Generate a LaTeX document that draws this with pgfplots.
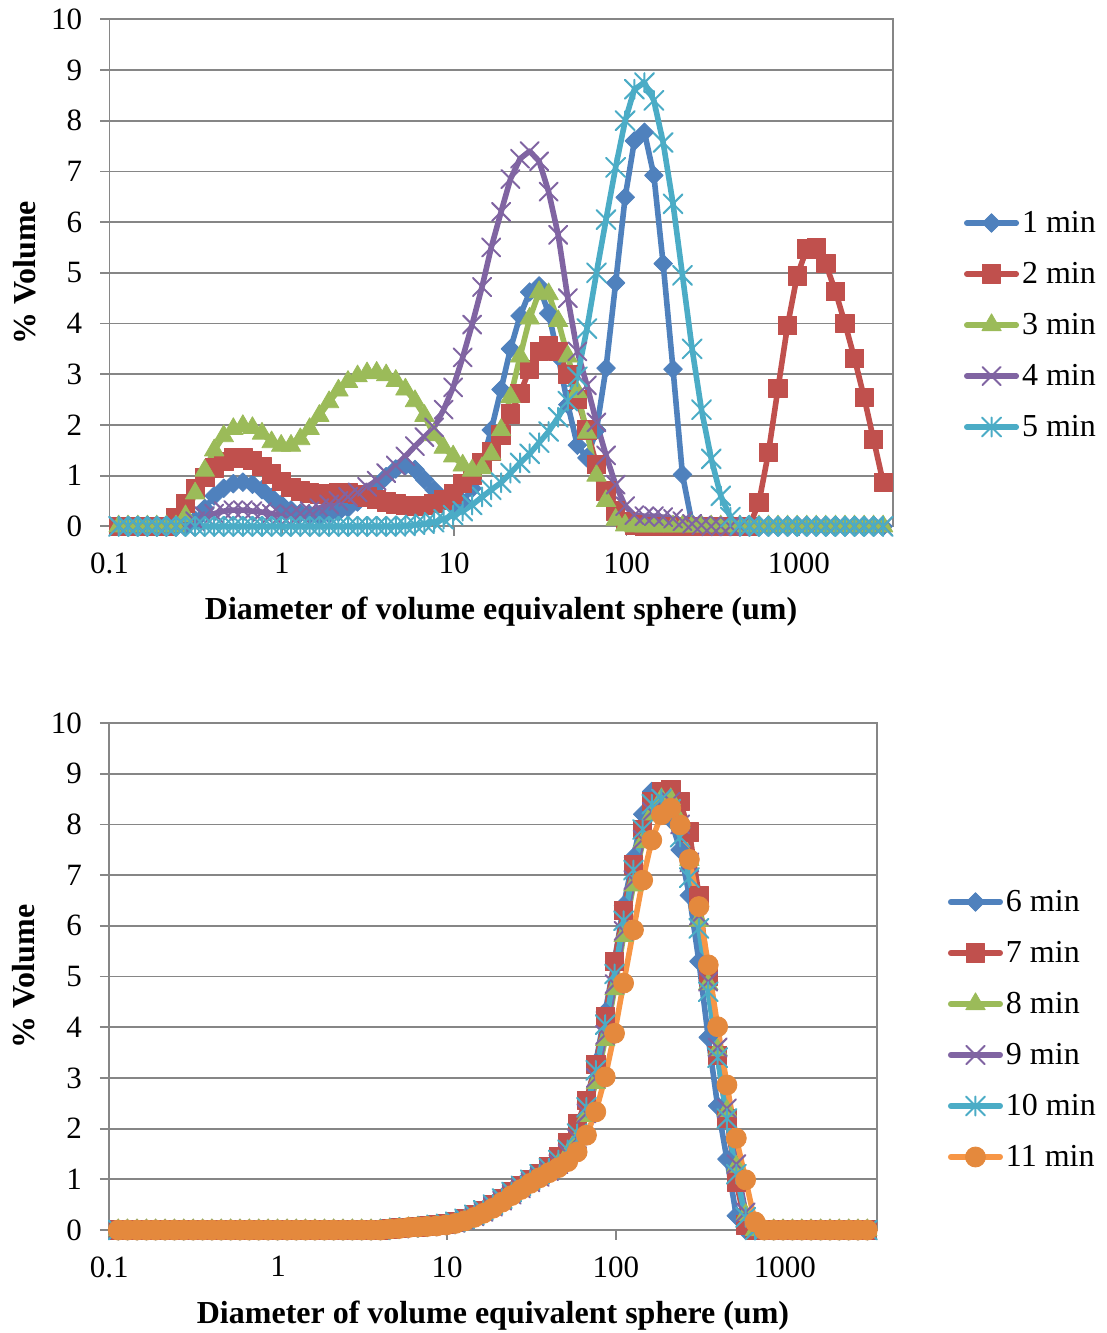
\documentclass[border=0pt]{standalone}
\usepackage{fontspec}
\setmainfont{Liberation Serif}
\usepackage{pgfplots}
\usepackage{pgfplotstable}
\pgfplotsset{compat=1.18}
\definecolor{c1}{HTML}{4F81BD}
\definecolor{c2}{HTML}{C0504D}
\definecolor{c3}{HTML}{9BBB59}
\definecolor{c4}{HTML}{8064A2}
\definecolor{c5}{HTML}{4BACC6}
\definecolor{c6}{HTML}{F79646}
\definecolor{c6m}{HTML}{E4893D}
\definecolor{gridgray}{HTML}{868686}
\pgfdeclareplotmark{xstar}{%
  \pgfpathmoveto{\pgfqpoint{0pt}{\pgfplotmarksize}}\pgfpathlineto{\pgfqpoint{0pt}{-\pgfplotmarksize}}%
  \pgfpathmoveto{\pgfqpoint{\pgfplotmarksize}{\pgfplotmarksize}}\pgfpathlineto{\pgfqpoint{-\pgfplotmarksize}{-\pgfplotmarksize}}%
  \pgfpathmoveto{\pgfqpoint{-\pgfplotmarksize}{\pgfplotmarksize}}\pgfpathlineto{\pgfqpoint{\pgfplotmarksize}{-\pgfplotmarksize}}%
  \pgfusepathqstroke}

\pgfplotstableread{
x b r g p c
0.113 0 0 0 0 0
0.128 0 0 0 0 0
0.146 0 0 0 0 0
0.166 0 0 0 0 0
0.188 0 0 0 0 0
0.214 0 0 0 0 0
0.243 0 0.18 0 0 0
0.276 0 0.45 0.2 0 0
0.314 0.12 0.75 0.65 0.1 0
0.357 0.35 0.97 1.1 0.2 0
0.405 0.6 1.15 1.5 0.25 0
0.460 0.75 1.28 1.78 0.3 0
0.523 0.84 1.35 1.92 0.32 0
0.594 0.87 1.35 1.98 0.32 0
0.675 0.83 1.3 1.94 0.3 0
0.767 0.72 1.18 1.83 0.28 0
0.872 0.57 1.03 1.66 0.25 0
0.991 0.43 0.88 1.59 0.22 0
1.13 0.32 0.77 1.59 0.22 0
1.28 0.26 0.7 1.72 0.25 0
1.45 0.23 0.66 1.92 0.3 0
1.65 0.22 0.64 2.18 0.36 0
1.88 0.24 0.65 2.45 0.43 0
2.13 0.28 0.66 2.68 0.5 0
2.42 0.36 0.66 2.85 0.58 0
2.75 0.48 0.63 2.96 0.67 0
3.12 0.63 0.58 3.02 0.78 0
3.55 0.8 0.53 3.03 0.9 0
4.03 0.98 0.48 2.98 1.05 0
4.58 1.13 0.44 2.87 1.2 0
5.21 1.2 0.41 2.7 1.38 0.01
5.92 1.12 0.4 2.47 1.58 0.03
6.72 0.92 0.41 2.18 1.76 0.05
7.64 0.72 0.45 1.8 1.95 0.08
8.68 0.52 0.52 1.55 2.3 0.14
9.86 0.42 0.64 1.38 2.74 0.22
11.2 0.48 0.85 1.2 3.33 0.3
12.7 0.75 1.0 1.1 3.98 0.42
14.5 1.25 1.25 1.15 4.72 0.58
16.4 1.9 1.48 1.42 5.5 0.72
18.7 2.7 1.8 1.9 6.2 0.86
21.2 3.5 2.22 2.55 6.85 1.05
24.1 4.15 2.62 3.35 7.25 1.25
27.4 4.62 3.1 4.1 7.4 1.43
31.1 4.74 3.45 4.62 7.2 1.65
35.3 4.2 3.56 4.58 6.6 1.87
40.1 3.35 3.45 4.05 5.75 2.15
45.6 2.4 3.0 3.35 4.5 2.47
51.8 1.6 2.5 2.65 3.45 2.95
58.9 1.35 1.9 1.85 2.78 3.9
66.9 1.9 1.22 1.0 2.05 5.0
76.0 3.12 0.7 0.5 1.4 6.05
86.4 4.80 0.3 0.13 0.82 7.08
98.1 6.49 0.1 0.02 0.4 8.0
111 7.60 0.03 0 0.22 8.62
127 7.77 0 0 0.2 8.75
144 6.92 0 0 0.2 8.4
163 5.18 0 0 0.18 7.57
186 3.10 0 0 0.15 6.36
211 1.02 0 0 0.1 4.95
240 0.05 0 0 0.05 3.5
272 0 0 0 0.02 2.3
310 0 0 0 0 1.33
352 0 0 0 0 0.6
400 0 0 0 0 0.18
454 0 0 0 0 0.02
516 0 0 0 0 0
586 0 0.47 0 0 0
666 0 1.46 0 0 0
756 0 2.72 0 0 0
859 0 3.96 0 0 0
976 0 4.94 0 0 0
1110 0 5.47 0 0 0
1260 0 5.49 0 0 0
1430 0 5.18 0 0 0
1630 0 4.63 0 0 0
1850 0 4.0 0 0 0
2100 0 3.31 0 0 0
2390 0 2.54 0 0 0
2710 0 1.71 0 0 0
3080 0 0.87 0 0 0
}\toptable

\pgfplotstableread{
x b r g p c o
0.113 0 0 0 0 0 0
0.128 0 0 0 0 0 0
0.146 0 0 0 0 0 0
0.166 0 0 0 0 0 0
0.188 0 0 0 0 0 0
0.214 0 0 0 0 0 0
0.243 0 0 0 0 0 0
0.276 0 0 0 0 0 0
0.314 0 0 0 0 0 0
0.357 0 0 0 0 0 0
0.405 0 0 0 0 0 0
0.460 0 0 0 0 0 0
0.523 0 0 0 0 0 0
0.594 0 0 0 0 0 0
0.675 0 0 0 0 0 0
0.767 0 0 0 0 0 0
0.872 0 0 0 0 0 0
0.991 0 0 0 0 0 0
1.13 0 0 0 0 0 0
1.28 0 0 0 0 0 0
1.45 0 0 0 0 0 0
1.65 0 0 0 0 0 0
1.88 0 0 0 0 0 0
2.13 0 0 0 0 0 0
2.42 0 0 0 0 0 0
2.75 0 0 0 0 0 0
3.12 0 0 0 0 0 0
3.55 0 0 0 0 0 0
4.03 0 0 0 0 0 0
4.58 0.02 0.02 0.02 0.02 0.02 0.02
5.21 0.04 0.04 0.03 0.03 0.04 0.03
5.92 0.05 0.05 0.04 0.05 0.05 0.05
6.72 0.06 0.06 0.05 0.06 0.06 0.06
7.64 0.08 0.08 0.07 0.07 0.08 0.07
8.68 0.1 0.1 0.08 0.09 0.1 0.08
9.86 0.12 0.12 0.1 0.11 0.12 0.1
11.2 0.16 0.16 0.13 0.14 0.16 0.13
12.7 0.22 0.22 0.18 0.2 0.22 0.18
14.5 0.3 0.3 0.25 0.27 0.3 0.25
16.4 0.4 0.39 0.34 0.36 0.39 0.33
18.7 0.52 0.5 0.44 0.46 0.5 0.43
21.2 0.65 0.62 0.56 0.58 0.62 0.55
24.1 0.78 0.75 0.69 0.7 0.75 0.68
27.4 0.9 0.88 0.81 0.82 0.87 0.8
31.1 1.01 1.0 0.93 0.94 0.99 0.92
35.3 1.12 1.12 1.04 1.05 1.1 1.03
40.1 1.24 1.25 1.15 1.16 1.22 1.13
45.6 1.4 1.45 1.3 1.3 1.38 1.23
51.8 1.62 1.72 1.5 1.5 1.58 1.35
58.9 1.98 2.1 1.8 1.8 1.9 1.54
66.9 2.52 2.56 2.25 2.3 2.42 1.87
76.0 3.3 3.27 2.9 3.0 3.15 2.33
86.4 4.3 4.2 3.75 3.85 4.05 3.02
98.1 5.3 5.3 4.75 4.85 5.05 3.88
111 6.4 6.3 5.8 5.9 6.1 4.87
127 7.35 7.2 6.8 6.9 7.1 5.92
144 8.2 7.9 7.65 7.7 7.9 6.9
163 8.65 8.45 8.2 8.25 8.4 7.69
186 8.6 8.65 8.5 8.5 8.5 8.19
211 8.1 8.68 8.5 8.45 8.3 8.32
240 7.5 8.45 8.05 8.0 7.75 7.99
272 6.6 7.85 7.3 7.25 6.95 7.31
310 5.3 6.6 6.1 6.2 5.95 6.38
352 3.8 5.0 4.85 4.9 4.7 5.23
400 2.45 3.45 3.55 3.6 3.4 4.01
454 1.4 2.2 2.35 2.4 2.2 2.86
516 0.28 0.95 1.25 1.3 1.1 1.81
586 0 0.1 0.3 0.35 0.25 0.99
666 0 0 0 0 0 0.16
756 0 0 0 0 0 0
859 0 0 0 0 0 0
976 0 0 0 0 0 0
1110 0 0 0 0 0 0
1260 0 0 0 0 0 0
1430 0 0 0 0 0 0
1630 0 0 0 0 0 0
1850 0 0 0 0 0 0
2100 0 0 0 0 0 0
2390 0 0 0 0 0 0
2710 0 0 0 0 0 0
3080 0 0 0 0 0 0
}\bottable

\pgfplotsset{
  every axis/.append style={
    scale only axis, clip=false,
    xmode=log, xmin=0.1, xmax=3500, ymin=0, ymax=10,
    xtick={0.1,1,10,100,1000}, xticklabels={0.1,1,10,100,1000},
    xminorticks=false,
    ytick={0,1,2,3,4,5,6,7,8,9,10}, yticklabels={0,1,2,3,4,5,6,7,8,9,10},
    ymajorgrids, major grid style={line width=0.9pt, gridgray},
    axis line style={line width=0.9pt, gridgray},
    every tick/.style={line width=0.9pt, gridgray},
    tick align=outside, major tick length=4.75pt,
    xtick pos=bottom, ytick pos=left,
    ticklabel style={font=\fontsize{15.5}{18}\selectfont, text=black, inner sep=0pt},
    xticklabel style={anchor=north, yshift=-8.25pt},
    yticklabel style={anchor=east, xshift=-8.75pt},
    xlabel={Diameter of volume equivalent sphere (um)},
    ylabel={\% Volume},
    every axis x label/.style={at={(axis description cs:0.5,0)}, anchor=base, yshift=-46.75pt, font=\bfseries\fontsize{16}{19}\selectfont},
    every axis y label/.style={at={(axis description cs:-0.108,0.5)}, anchor=center, rotate=90, font=\bfseries\fontsize{16}{19}\selectfont},
    legend cell align=left,
    legend image code/.code={%
      \path[draw=none,fill=none] (0pt,-12.75pt) rectangle (27.5pt,12.75pt);
      \draw[mark repeat=2,mark phase=2] plot coordinates {(1.4pt,0pt) (13.75pt,0pt) (26.1pt,0pt)};},
    legend style={draw=none, fill=none, inner sep=0pt, outer sep=0pt, row sep=0pt, column sep=1.5pt,
      font=\fontsize{16}{19}\selectfont, nodes={inner sep=0pt}},
  },
  every axis plot/.append style={line width=2.8pt, line join=round, line cap=round},
}
\tikzset{
  sA/.style={c1, mark=square*, mark options={solid, rotate=45, fill=c1, draw=c1, line width=0.4pt, mark size=3.3pt}},
  sB/.style={c2, mark=square*, mark options={solid, fill=c2, draw=c2, line width=0.4pt, mark size=4.6pt}},
  sC/.style={c3, mark=triangle*, mark options={solid, fill=c3, draw=c3, line width=0.4pt, mark size=5.6pt}},
  sD/.style={c4, mark=x, mark options={solid, draw=c4, line width=1pt, mark size=6.4pt}},
  sE/.style={c5, mark=xstar, mark options={solid, draw=c5, line width=1pt, mark size=4.75pt}},
  sF/.style={c6, mark=*, mark options={solid, fill=c6m, draw=c6m, line width=0.4pt, mark size=5pt}},
}

\begin{document}
\begin{tikzpicture}
\useasboundingbox (0,0) rectangle (553.5pt,-666.5pt);
\begin{axis}[at={(54.75pt,-263.15pt)}, anchor=south west, width=391.6pt, height=253.5pt,
  legend style={at={(rel axis cs:1.0911,0.397)}, anchor=west}]
\addplot[sA] table[x=x,y=b] {\toptable};
\addplot[sB] table[x=x,y=r] {\toptable};
\addplot[sC] table[x=x,y=g] {\toptable};
\addplot[sD] table[x=x,y=p] {\toptable};
\addplot[sE] table[x=x,y=c] {\toptable};
\legend{1 min,2 min,3 min,4 min,5 min}
\end{axis}
\begin{axis}[at={(54.65pt,-615pt)}, anchor=south west, width=383.7pt, height=253.5pt,
  ylabel style={at={(axis description cs:-0.111,0.5)}},
  legend style={at={(rel axis cs:1.0929,0.3955)}, anchor=west}]
\addplot[sA] table[x=x,y=b] {\bottable};
\addplot[sB] table[x=x,y=r] {\bottable};
\addplot[sC] table[x=x,y=g] {\bottable};
\addplot[sD] table[x=x,y=p] {\bottable};
\addplot[sE] table[x=x,y=c] {\bottable};
\addplot[sF] table[x=x,y=o] {\bottable};
\legend{6 min,7 min,8 min,9 min,10 min,11 min}
\end{axis}
\end{tikzpicture}
\end{document}
